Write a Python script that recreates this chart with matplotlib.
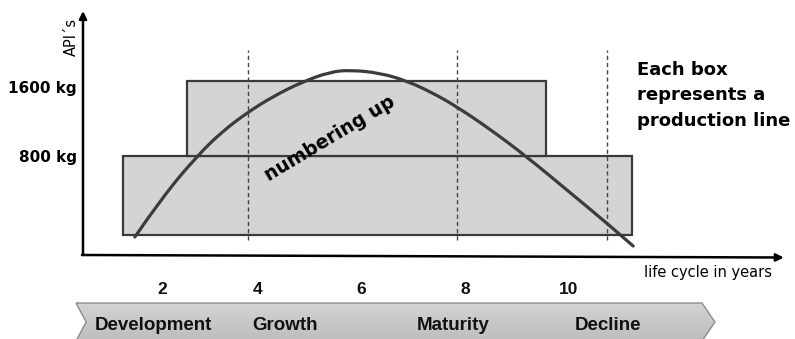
import matplotlib
matplotlib.use("Agg")
import matplotlib.pyplot as plt
import numpy as np
from matplotlib.patches import Rectangle, Polygon, PathPatch
from matplotlib.path import Path

# ---- data (schematic units: x in years, y in relative capacity) ----
tick_years = [2, 4, 6, 8, 10]
tick_labels = ["2", "4", "6", "8", "10"]

curve_x = [1.62, 2.16, 2.84, 3.32, 3.81, 4.29, 4.85, 5.39, 5.78, 6.36,
           6.88, 7.38, 7.85, 8.48, 9.20, 9.97, 10.74, 11.25]
curve_y = [0.18, 0.585, 1.00, 1.24, 1.43, 1.585, 1.73, 1.83, 1.85, 1.82,
           1.74, 1.62, 1.48, 1.26, 0.98, 0.65, 0.32, 0.09]

# production-line boxes: (x_start, x_end, y_bottom, y_top)
box_x0 = [1.39, 2.63]
box_x1 = [11.23, 9.57]
box_y0 = [0.20, 0.99]
box_y1 = [0.99, 1.74]

capacity_labels = ["800 kg", "1600 kg"]
capacity_label_y = [0.97, 1.66]

phase_x = [3.81, 7.85, 10.74]          # dashed phase boundaries
phase_names = ["Development", "Growth", "Maturity", "Decline"]
phase_label_x = [1.97, 4.52, 7.77, 10.76]

# ---- figure ----
fig = plt.figure(figsize=(7.95, 3.39), dpi=100)
ax = fig.add_axes([0, 0, 1, 1])
ax.set_xlim(-0.9855, 14.377)
ax.set_ylim(-0.84, 2.55)
ax.axis("off")

# boxes
for x0, x1, y0, y1 in zip(box_x0, box_x1, box_y0, box_y1):
    ax.add_patch(Rectangle((x0, y0), x1 - x0, y1 - y0, facecolor="#d4d4d4",
                           edgecolor="#3a3a3a", lw=1.6, zorder=2))

# dashed lines
for xv in phase_x:
    ax.plot([xv, xv], [0.15, 2.05], color="#444444", lw=1.0,
            dashes=(3, 2.2), zorder=3)

# smooth curve (quadratic Bezier segments through the read points)
pts = list(zip(curve_x, curve_y))
verts = [pts[0]]
codes = [Path.MOVETO]
for i in range(1, len(pts) - 1):
    mx = (pts[i][0] + pts[i + 1][0]) / 2
    my = (pts[i][1] + pts[i + 1][1]) / 2
    end = (mx, my) if i < len(pts) - 2 else pts[-1]
    verts += [pts[i], end]
    codes += [Path.CURVE3, Path.CURVE3]
ax.add_patch(PathPatch(Path(verts, codes), facecolor="none",
                       edgecolor="#3c3c3c", lw=2.3, zorder=4, capstyle="round"))

# axes with arrows
y_axis_x = 0.618
ax.annotate("", xy=(y_axis_x, 2.44), xytext=(y_axis_x, 0.0),
            arrowprops=dict(arrowstyle="-|>", lw=1.8, color="black",
                            mutation_scale=11, shrinkA=0, shrinkB=0), zorder=5)
ax.annotate("", xy=(14.16, -0.025), xytext=(y_axis_x - 0.02, 0.0),
            arrowprops=dict(arrowstyle="-|>", lw=1.8, color="black",
                            mutation_scale=11, shrinkA=0, shrinkB=0), zorder=5)

# axis labels
ax.text(0.386, 2.18, "API´s", rotation=90, ha="center", va="center",
        fontsize=10.5, family="DejaVu Sans")
ax.text(13.93, -0.17, "life cycle in years", ha="right", va="center",
        fontsize=10.5, family="DejaVu Sans")

for lab, yv in zip(capacity_labels, capacity_label_y):
    ax.text(0.50, yv, lab, ha="right", va="center", fontsize=11,
            fontweight="bold", family="DejaVu Sans")

for xv, lab in zip(tick_years, tick_labels):
    ax.text(xv + (0.15 if xv == 2 else 0), -0.35, lab, ha="center", va="center",
            fontsize=12.5, fontweight="bold", family="Liberation Sans",
            color="#111111")

# annotation texts
ax.text(5.39, 1.16, "numbering up", rotation=31, ha="center", va="center",
        fontsize=13.5, fontweight="bold", family="DejaVu Sans", zorder=6,
        rotation_mode="anchor")
ax.text(11.32, 1.595, "Each box\nrepresents a\nproduction line", ha="left",
        va="center", fontsize=13, fontweight="bold", family="DejaVu Sans",
        linespacing=1.52)

# chevron band with gradient
left, notch, right, tip = 0.483, 0.68, 12.58, 12.83
top, mid, bot = -0.48, -0.67, -0.86
cverts = [(left, top), (right, top), (tip, mid), (right, bot), (left, bot), (notch, mid)]
poly = Polygon(cverts, closed=True, facecolor="none", edgecolor="#8c8c8c",
               lw=1.0, zorder=3)
ax.add_patch(poly)
grad = np.linspace(0, 1, 64).reshape(-1, 1)
im = ax.imshow(grad, extent=(left, tip, bot, top), origin="upper",
               cmap=matplotlib.colors.LinearSegmentedColormap.from_list(
                   "g", ["#d4d4d4", "#bdbdbd"]),
               aspect="auto", zorder=2)
im.set_clip_path(poly)

for xv, name in zip(phase_label_x, phase_names):
    ax.text(xv, -0.71, name, ha="center", va="center", fontsize=13.5,
            fontweight="bold", family="Liberation Sans", color="#111111", zorder=4)

ax.set_xlim(-0.9855, 14.377)
ax.set_ylim(-0.84, 2.55)
fig.savefig("out.png", dpi=100)
